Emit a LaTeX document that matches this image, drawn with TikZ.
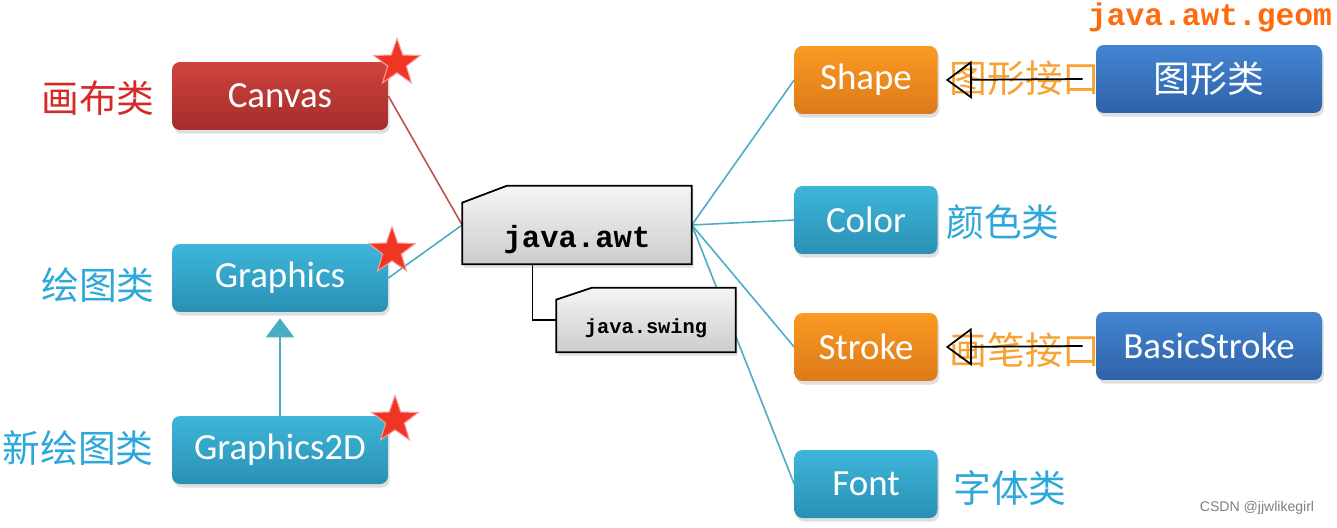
\documentclass[tikz,border=0pt]{standalone}
\usepackage{fontspec}
\setmainfont{Carlito}
\newfontfamily\cjk{Noto Sans CJK SC}
\newfontfamily\codefont{Liberation Mono}
\newfontfamily\markfont{Liberation Sans}
\usepackage{xcolor}
\usetikzlibrary{
    shapes.geometric,
    arrows.meta,
    positioning,
    shadows,
    backgrounds
}

\definecolor{redtop}{HTML}{CF423E}
\definecolor{redbot}{HTML}{A32E2B}
\definecolor{cyantop}{HTML}{3DB6DA}
\definecolor{cyanbot}{HTML}{2A90B3}
\definecolor{orangetop}{HTML}{FA9A22}
\definecolor{orangebot}{HTML}{DD7A1A}
\definecolor{bluetop}{HTML}{4485D2}
\definecolor{bluebot}{HTML}{2E62A8}
\definecolor{redline}{HTML}{C0504D}
\definecolor{cyanline}{HTML}{4BACC6}
\definecolor{redtext}{HTML}{D42A28}
\definecolor{cyantext}{HTML}{2EA7DB}
\definecolor{orangetext}{HTML}{F7A232}
\definecolor{geomtext}{HTML}{FF6A0E}
\definecolor{starred}{HTML}{EF3524}

\begin{document}
\begin{tikzpicture}[
    x=0.02cm, y=-0.02cm,
    box/.style={
        rounded corners=4.5pt,
        text=white,
        font=\fontsize{21}{25}\selectfont,
        minimum height=1.36cm,
        drop shadow={shadow xshift=1pt, shadow yshift=-2pt, opacity=0.25}
    },
    wide/.style={box, minimum width=4.32cm},
    narrow/.style={box, minimum width=2.86cm},
    redbox/.style={top color=redtop, bottom color=redbot},
    cyanbox/.style={top color=cyantop, bottom color=cyanbot},
    orangebox/.style={top color=orangetop, bottom color=orangebot},
    bluebox/.style={top color=bluetop, bottom color=bluebot},
    pkg/.style={rectangle, text depth=0cm},
    pkgface/.style={
        draw=black,
        line width=1pt,
        top color=gray!8,
        bottom color=gray!40,
        drop shadow={shadow xshift=1pt, shadow yshift=-2pt, opacity=0.2}
    },
    label/.style={font=\cjk\fontsize{21.5}{25}\selectfont},
    starmark/.style={
        star, star points=5, star point ratio=2.5,
        fill=starred, draw=red!40, line width=0.6pt,
        inner sep=0pt, minimum size=0.98cm
    },
    redwire/.style={draw=redline, line width=0.9pt},
    cyanwire/.style={draw=cyanline, line width=0.9pt},
    openarrow/.style={-{Triangle[open, length=0.52cm, width=0.76cm]}, line width=1pt, black}
]
\useasboundingbox (0, 0) rectangle (1337, 527);

% Left column
\node[wide, redbox] (canvas) at (280, 96) {Canvas};
\node[wide, cyanbox] (graphics) at (280, 278) {Graphics};
\node[wide, cyanbox] (graphics2d) at (280, 450) {Graphics2D};

\node[label, text=redtext] (canvaslbl) at (98, 98) {画布类};
\node[label, text=cyantext] (graphicslbl) at (98, 285) {绘图类};
\node[label, text=cyantext] (graphics2dlbl) at (78, 448) {新绘图类};

% Packages
\node[pkg, minimum width=4.58cm, minimum height=1.56cm,
      text height=0.92cm, font=\codefont\bfseries\fontsize{17.4}{20}\selectfont]
      (awt) at (577, 225) {java.awt};
\node[pkg, minimum width=3.58cm, minimum height=1.28cm,
      text height=0.52cm, font=\codefont\bfseries\fontsize{11.6}{14}\selectfont]
      (swing) at (646, 320) {java.swing};

% Right column
\node[narrow, orangebox] (shape) at (866, 80) {Shape};
\node[narrow, cyanbox] (color) at (866, 220) {Color};
\node[narrow, orangebox] (stroke) at (866, 347) {Stroke};
\node[narrow, cyanbox] (font) at (866, 484) {Font};

\node[wide, bluebox, minimum width=4.52cm, font=\cjk\fontsize{21}{25}\selectfont] (geom) at (1209, 79) {图形类};
\node[wide, bluebox, minimum width=4.52cm] (basic) at (1209, 346) {BasicStroke};

\node[label, text=cyantext] (colorlbl) at (1003, 222) {颜色类};
\node[label, text=cyantext] (fontlbl) at (1010, 488) {字体类};
\node[label, text=orangetext] (shapelbl) at (1025, 78) {图形接口};
\node[label, text=orangetext] (strokelbl) at (1025, 350) {画笔接口};

\node[font=\codefont\bfseries\fontsize{17.8}{20}\selectfont, text=geomtext] (geomlbl) at (1210, 17) {java.awt.geom};

% Connectors
\begin{scope}[on background layer]
\draw[redwire] (canvas.east) -- (awt.west);
\draw[cyanwire] (graphics.east) -- (awt.west);
\draw[cyanwire] (awt.east) -- (shape.west);
\draw[cyanwire] (awt.east) -- (color.west);
\draw[cyanwire] (awt.east) -- (stroke.west);
\draw[cyanwire] (awt.east) -- (font.west);
\draw[line width=1pt] ([xshift=-0.89cm]awt.south) |- (swing.west);
% package outlines with the folded corner
\draw[pkgface] (awt.south west) -- ([yshift=-0.34cm]awt.north west)
    -- ([xshift=0.9cm]awt.north west) -- (awt.north east)
    -- (awt.south east) -- cycle;
\draw[pkgface] (swing.south west) -- ([yshift=-0.24cm]swing.north west)
    -- ([xshift=0.72cm]swing.north west) -- (swing.north east)
    -- (swing.south east) -- cycle;
\end{scope}
\draw[cyanwire, -{Triangle[length=0.38cm, width=0.56cm]}] (graphics2d.north) -- ([yshift=-0.12cm]graphics.south);
\draw[openarrow] ([xshift=-0.26cm]geom.west) -- ([xshift=0.16cm]shape.east);
\draw[openarrow] ([xshift=-0.26cm]basic.west) -- ([xshift=0.16cm]stroke.east);

% Stars
\node[starmark] (star1) at (397, 63) {};
\node[starmark] (star2) at (392, 251) {};
\node[starmark] (star3) at (395, 420) {};

% Watermark
\node[font=\markfont\fontsize{8}{10}\selectfont, text=gray] (mark) at (1257, 508) {CSDN @jjwlikegirl};
\end{tikzpicture}
\end{document}
